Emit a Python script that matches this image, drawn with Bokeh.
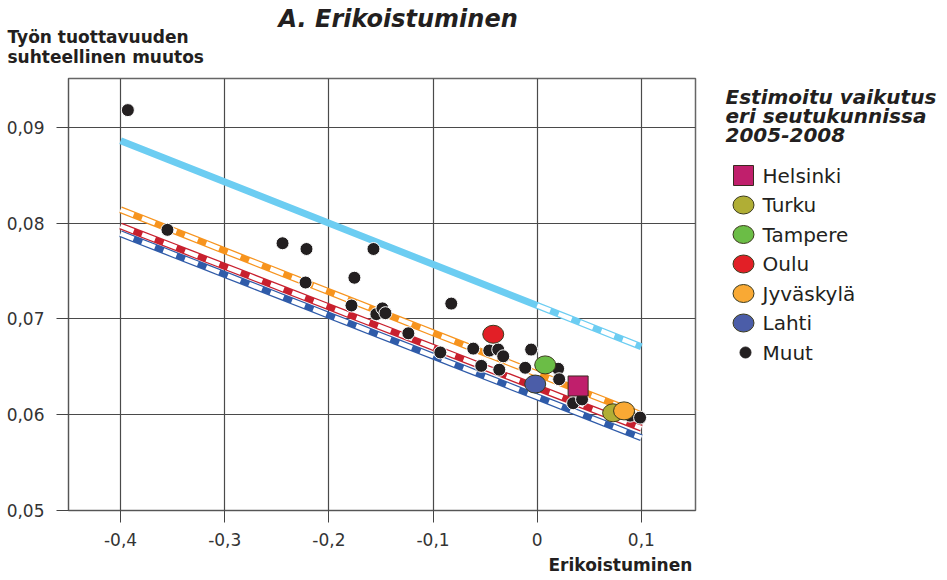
from bokeh.plotting import figure
from bokeh.models import Range1d, FixedTicker, Title
from bokeh.layouts import row, column
from bokeh.embed import file_html
from bokeh.resources import INLINE
from bokeh.core.properties import value

# ---------------- data ----------------
x_ticks = [-0.4, -0.3, -0.2, -0.1, 0.0, 0.1]
x_tick_labels = ["-0,4", "-0,3", "-0,2", "-0,1", "0", "0,1"]
y_ticks = [0.05, 0.06, 0.07, 0.08, 0.09]
y_tick_labels = ["0,05", "0,06", "0,07", "0,08", "0,09"]

muut_x = [-0.393, -0.355, -0.2445, -0.2215, -0.2224, -0.1755, -0.1572, -0.1783,
          -0.1544, -0.1486, -0.1457, -0.1237, -0.0825, -0.093, -0.0614, -0.046,
          -0.0374, -0.0326, -0.0537, -0.0364, -0.0058, -0.0115, 0.0201, 0.0211,
          0.0345, 0.0431, 0.0892, 0.0988]
muut_y = [0.0918, 0.0793, 0.0779, 0.0773, 0.0738, 0.0743, 0.0773, 0.0714,
          0.0705, 0.0711, 0.0706, 0.0685, 0.0716, 0.0665, 0.0669, 0.0667,
          0.0668, 0.0661, 0.0651, 0.0647, 0.0668, 0.0649, 0.0648, 0.0637,
          0.0612, 0.0616, 0.0599, 0.0597]

regions = ["Helsinki", "Turku", "Tampere", "Oulu", "Jyväskylä", "Lahti"]
region_x = [0.0393, 0.0729, 0.0077, -0.0422, 0.0834, -0.0019]
region_y = [0.0630, 0.0602, 0.0652, 0.0684, 0.0604, 0.0632]
region_colors = ["#C01F6C", "#B0AE35", "#6BBD46", "#E21F26", "#F9A934", "#4B5DA8"]

# estimated trend lines (x from -0.4 to 0.1)
line_x = [-0.4, 0.1]
lightblue_x = [-0.4, 0.0, 0.1]
lightblue_y = [0.0886, 0.0714, 0.0671]
orange_y = [0.0814, 0.0600]
red_y = [0.0797, 0.0586]
blue_y = [0.0789, 0.0576]

chart_title = "A. Erikoistuminen"
y_title = ["Työn tuottavuuden", "suhteellinen muutos"]
x_title = "Erikoistuminen"
legend_title = ["Estimoitu vaikutus", "eri seutukunnissa", "2005-2008"]
legend_labels = regions + ["Muut"]

TXT = "#231F20"
FONT = "DejaVu Sans"

# ---------------- geometry (page pixels) ----------------
TW, TH = 946, 70          # header strip
X0, X1 = -0.45, 0.152
Y0, Y1 = 0.05, 0.0951
FL, FR, FT, FB = 68, 695, 78, 510
W, H = 708, 580 - TH

# ---------------- header (title + y-axis title) ----------------
hd = figure(width=TW, height=TH, x_range=Range1d(0, TW), y_range=Range1d(TH, 0),
            toolbar_location=None, output_backend="svg",
            min_border_left=0, min_border_right=0, min_border_top=0, min_border_bottom=0,
            x_axis_type=None, y_axis_type=None)
hd.outline_line_color = None
hd.grid.visible = False
hd.text(x=[278], y=[18.5], text=[chart_title], text_font=value(FONT),
        text_font_style="bold italic", text_font_size="24px", text_color=TXT,
        text_baseline="alphabetic")
hd.text(x=[7, 7], y=[36, 56.5], text=y_title, text_font=value(FONT),
        text_font_style="bold", text_font_size="17px", text_color=TXT,
        text_baseline="alphabetic")

# ---------------- main figure ----------------
p = figure(width=W, height=H, x_range=Range1d(X0, X1), y_range=Range1d(Y0, Y1),
           toolbar_location=None, output_backend="svg",
           min_border_left=FL, min_border_right=W - FR,
           min_border_top=FT - TH, min_border_bottom=580 - FB)
p.background_fill_color = "white"
p.border_fill_color = "white"
p.outline_line_color = "#666666"
p.outline_line_width = 1.5

p.xaxis.ticker = FixedTicker(ticks=x_ticks)
p.yaxis.ticker = FixedTicker(ticks=y_ticks)
p.xaxis.major_label_overrides = dict(zip(x_ticks, x_tick_labels))
p.yaxis.major_label_overrides = dict(zip(y_ticks, y_tick_labels))
for ax in (p.xaxis, p.yaxis):
    ax.major_tick_out = 12
    ax.major_tick_in = 0
    ax.minor_tick_line_color = None
    ax.major_tick_line_color = "#444444"
    ax.axis_line_color = "#555555"
    ax.major_label_text_font = FONT
    ax.major_label_text_font_size = "17px"
    ax.major_label_text_color = "#333333"
p.yaxis.major_label_standoff = 12
p.xaxis.major_label_standoff = 10
p.xgrid.grid_line_color = "#4a4a4a"
p.ygrid.grid_line_color = "#4a4a4a"
p.xgrid.grid_line_width = 1.2
p.ygrid.grid_line_width = 1.2

DASH = "14 9"
for ys, col in ((blue_y, "#2F5BA9"), (red_y, "#C8202E"), (orange_y, "#F7941E")):
    p.line(line_x, ys, line_color=col, line_width=7)
    p.line(line_x, ys, line_color="white", line_width=4.5, line_dash=DASH)
p.line(lightblue_x, lightblue_y, line_color="#6CCDF2", line_width=7)
p.line(lightblue_x[1:], lightblue_y[1:], line_color="white", line_width=4.5, line_dash=DASH)

p.scatter(muut_x, muut_y, size=13, fill_color=TXT, line_color="white", line_width=1)
p.scatter(region_x[:1], region_y[:1], marker="square", size=20,
          fill_color=region_colors[0], line_color="#3a2a20", line_width=1)
p.ellipse(region_x[1:], region_y[1:], width=21, height=18,
          width_units="screen", height_units="screen",
          fill_color=region_colors[1:], line_color="#3b3a1c", line_width=1)

p.add_layout(Title(text=x_title, align="left", offset=480, standoff=8,
                   text_font=FONT, text_font_style="bold", text_font_size="17px",
                   text_color=TXT), "below")

# ---------------- legend figure (page y coordinates) ----------------
LW = TW - W
lg = figure(width=LW, height=H, x_range=Range1d(0, LW), y_range=Range1d(FB, FT),
            toolbar_location=None, output_backend="svg",
            min_border_left=0, min_border_right=0,
            min_border_top=FT - TH, min_border_bottom=580 - FB,
            x_axis_type=None, y_axis_type=None)
lg.outline_line_color = None
lg.grid.visible = False
lg.border_fill_color = "white"

title_base = [96, 115, 134]
lg.text(x=[17] * 3, y=title_base, text=legend_title, text_font=value(FONT),
        text_font_style="bold italic", text_font_size="20px", text_color=TXT,
        text_baseline="alphabetic")

item_center = [175 + 29.5 * i for i in range(7)]
lg.scatter([35], item_center[:1], marker="square", size=20,
           fill_color=region_colors[0], line_color="#3a2a20", line_width=1)
lg.ellipse([35] * 5, item_center[1:6], width=21, height=18,
           width_units="screen", height_units="screen",
           fill_color=region_colors[1:], line_color="#3b3a1c", line_width=1)
lg.scatter([37], item_center[6:], size=11, fill_color=TXT, line_color=TXT)
lg.text(x=[54] * 7, y=item_center, text=legend_labels,
        text_font=value(FONT), text_font_size="20px", text_color=TXT,
        text_baseline="alphabetic")

layout = column(hd, row(p, lg))
open("out.html", "w").write(file_html(layout, INLINE))
